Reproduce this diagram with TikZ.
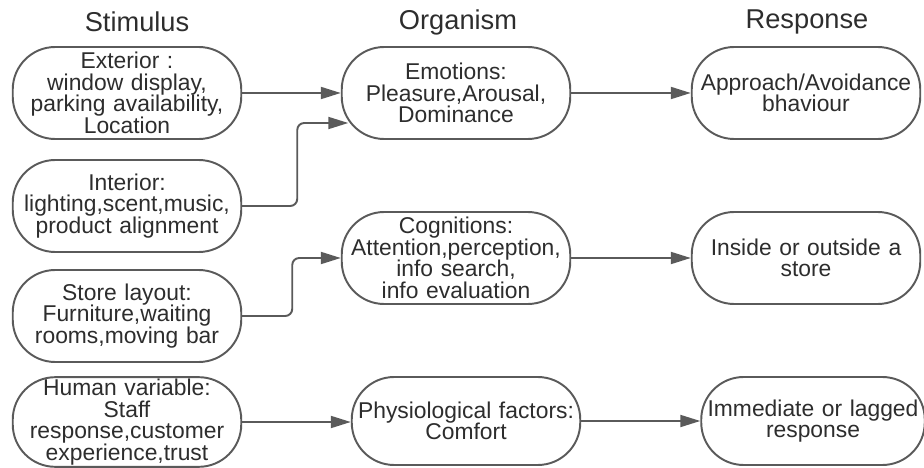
\documentclass[tikz,border=0pt]{standalone}
\usepackage{fontspec}
\setmainfont{Liberation Sans}
\usetikzlibrary{arrows.meta, positioning}
\definecolor{linegrey}{RGB}{90, 90, 90}
\definecolor{textgrey}{RGB}{45, 45, 45}

\begin{document}
\begin{tikzpicture}[
    every node/.style = {font=\fontsize{13}{12.3}\selectfont\color{textgrey}},
    pill/.style = {
        rectangle, rounded corners=0.85cm,
        draw=linegrey, line width=1.1pt, fill=white,
        minimum width=4.56cm, minimum height=1.84cm,
        text width=4.5cm, align=center, inner sep=1pt
    },
    heading/.style = {font=\fontsize{15.5}{16}\selectfont\color{textgrey}},
    arr/.style = {-{Triangle[length=0.4cm, width=0.24cm]}, linegrey, line width=1.1pt},
]

\useasboundingbox (0,0) rectangle (18.48,-9.36);

% Headings
\node[heading] (hstim) at (2.74,-0.44)  {Stimulus};
\node[heading] (horg)  at (9.16,-0.44)  {Organism};
\node[heading] (hresp) at (16.14,-0.44) {Response};

% Stimulus
\node[pill] (ext) at (2.54,-1.86) {Exterior :\\window display,\\parking availability,\\Location};
\node[pill] (int) at (2.54,-4.12) {Interior:\\lighting,scent,music,\\product alignment};
\node[pill] (lay) at (2.54,-6.32) {Store layout:\\Furniture,waiting\\rooms,moving bar};
\node[pill, minimum height=1.74cm] (hum) at (2.54,-8.44)
    {Human variable:\\Staff\\response,customer\\experience,trust};

% Organism
\node[pill] (emo) at (9.12,-1.86) {Emotions:\\Pleasure,Arousal,\\Dominance};
\node[pill] (cog) at (9.12,-5.16) {Cognitions:\\Attention,perception,\\info search,\\info evaluation};
\node[pill, minimum height=1.76cm] (phy) at (9.32,-8.42) {Physiological factors:\\Comfort};

% Response
\node[pill] (app) at (16.12,-1.86) {Approach/Avoidance\\bhaviour};
\node[pill] (ins) at (16.12,-5.16) {Inside or outside a\\store};
\node[pill, minimum width=4.44cm, text width=4.4cm, minimum height=1.76cm] (imm) at (16.26,-8.42)
    {Immediate or lagged\\response};

% Arrows
\draw[arr] (ext) -- (emo);
\draw[arr, rounded corners=4pt] (int.east) -- ++(1.1,0) |- ([xshift=0.15cm, yshift=-0.6cm]emo.west);
\draw[arr, rounded corners=4pt] (lay.east) -- ++(1.0,0) |- (cog.west);
\draw[arr] (hum.east) -- (hum.east -| phy.west);
\draw[arr] (emo) -- (app);
\draw[arr] (cog) -- (ins);
\draw[arr] (phy) -- (imm);

\end{tikzpicture}
\end{document}
